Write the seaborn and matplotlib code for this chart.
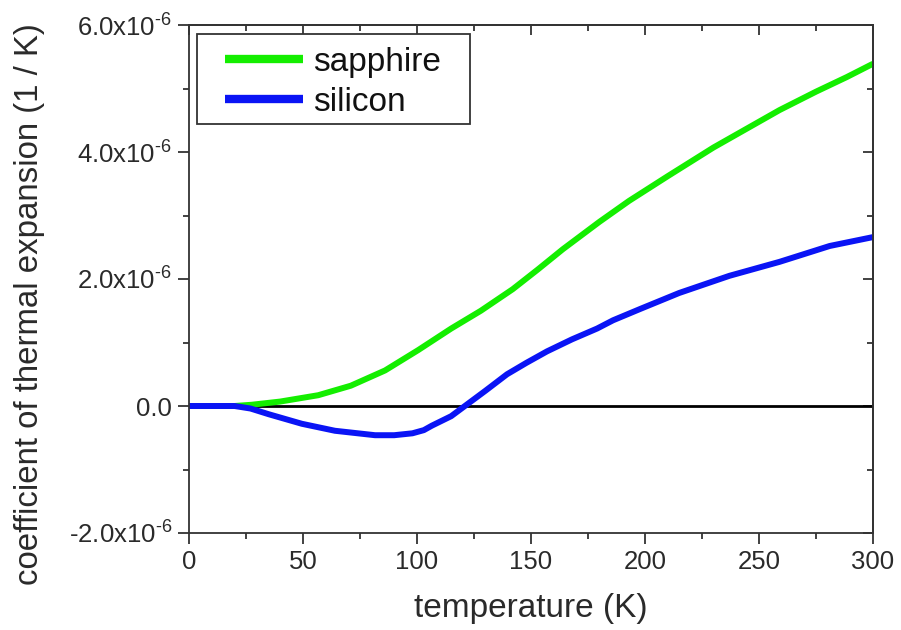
import numpy as np
import pandas as pd
import seaborn as sns
import matplotlib.pyplot as plt
import matplotlib.ticker as mticker
from matplotlib.patches import Rectangle

# values (temperature in K, CTE in units of 1e-6 / K)
SAPPHIRE_T = [0, 10, 20, 27.6, 40, 56.7, 71, 86, 100.5, 115, 128, 142, 153, 164, 180, 193, 210, 230, 259, 275, 288.5, 300]
SAPPHIRE_CTE = [0, 0, 0, 0.02, 0.07, 0.17, 0.32, 0.56, 0.88, 1.22, 1.50, 1.84, 2.15, 2.47, 2.90, 3.23, 3.62, 4.07, 4.66, 4.95, 5.18, 5.39]
SILICON_T = [0, 10, 20, 27, 35, 49.5, 64, 81.6, 90, 98, 103, 106.5, 115, 121, 130, 139.5, 148, 157, 168, 179, 186, 198, 215, 237, 259, 281, 300]
SILICON_CTE = [0, 0, 0, -0.04, -0.13, -0.28, -0.39, -0.46, -0.46, -0.43, -0.38, -0.31, -0.16, 0.0, 0.24, 0.50, 0.68, 0.86, 1.05, 1.22, 1.35, 1.53, 1.78, 2.05, 2.27, 2.52, 2.66]
SERIES = ["sapphire", "silicon"]
COLORS = {"sapphire": "#14ee00", "silicon": "#0a14f5"}
X_TICKS = [0, 50, 100, 150, 200, 250, 300]
Y_TICKS = [-2e-6, 0, 2e-6, 4e-6, 6e-6]


def y_label(v, _):
    if abs(v) < 1e-12:
        return "0.0"
    return f"{v * 1e6:.1f}x10$^{{\\text{{-6}}}}$"


def main():
    df = pd.concat([
        pd.DataFrame({"T": SAPPHIRE_T, "cte": np.array(SAPPHIRE_CTE) * 1e-6, "material": "sapphire"}),
        pd.DataFrame({"T": SILICON_T, "cte": np.array(SILICON_CTE) * 1e-6, "material": "silicon"}),
    ], ignore_index=True)

    sns.set_style("ticks")
    plt.rcParams["font.family"] = ["Liberation Sans", "DejaVu Sans"]
    plt.rcParams["mathtext.fontset"] = "custom"
    plt.rcParams["mathtext.rm"] = "Liberation Sans"
    plt.rcParams["mathtext.it"] = "Liberation Sans"
    plt.rcParams["axes.unicode_minus"] = False

    fig = plt.figure(figsize=(9.01, 6.30), dpi=100)
    ax = fig.add_axes([189 / 901, 1 - 533 / 630, (873 - 189) / 901, (533 - 25) / 630])

    ax.axhline(0, color="black", lw=2, zorder=1)
    sns.lineplot(data=df, x="T", y="cte", hue="material", hue_order=SERIES,
                 palette=COLORS, lw=4.3, ax=ax, zorder=2, estimator=None, sort=True,
                 solid_joinstyle="round", solid_capstyle="butt")

    ax.set_xlim(0, 300)
    ax.set_ylim(-2e-6, 6e-6)
    ax.set_xticks(X_TICKS)
    ax.set_yticks(Y_TICKS)
    ax.xaxis.set_minor_locator(mticker.MultipleLocator(25))
    ax.yaxis.set_minor_locator(mticker.MultipleLocator(1e-6))
    ax.yaxis.set_major_formatter(mticker.FuncFormatter(y_label))

    frame_col = "#333333"
    txt_col = "#2a2a2a"
    for s in ax.spines.values():
        s.set_color(frame_col)
        s.set_linewidth(1.3)
    ax.tick_params(which="major", direction="out", length=8, width=1.3, color=frame_col,
                   labelsize=18.5, labelcolor=txt_col, pad=4)
    ax.tick_params(which="minor", direction="out", length=4.5, width=1.3, color=frame_col)

    top = ax.secondary_xaxis("top")
    top.set_xticks(X_TICKS)
    top.xaxis.set_minor_locator(mticker.MultipleLocator(25))
    top.tick_params(which="major", direction="in", length=7, width=1.3, color=frame_col, labeltop=False)
    top.tick_params(which="minor", direction="in", length=4.5, width=1.3, color=frame_col)
    top.spines["top"].set_color(frame_col)
    top.spines["top"].set_linewidth(1.3)
    right = ax.secondary_yaxis("right")
    right.set_yticks(Y_TICKS)
    right.yaxis.set_minor_locator(mticker.MultipleLocator(1e-6))
    right.tick_params(which="major", direction="in", length=7, width=1.3, color=frame_col, labelright=False)
    right.tick_params(which="minor", direction="in", length=4.5, width=1.3, color=frame_col)
    right.spines["right"].set_color(frame_col)
    right.spines["right"].set_linewidth(1.3)

    ax.set_xlabel("temperature (K)", fontsize=24, color=txt_col, labelpad=14)
    ax.set_ylabel("coefficient of thermal expansion (1 / K)", fontsize=23.8, color=txt_col)
    ax.yaxis.set_label_coords(-0.2105, 0.451)

    # legend box drawn separately so its padding can match the reference
    ax.add_patch(Rectangle((0.0117, 0.8049), 0.399, 0.1771, transform=ax.transAxes,
                           fill=True, facecolor="white", edgecolor=frame_col, lw=1.3, zorder=4))
    leg = ax.legend(loc="upper left", fontsize=24, frameon=False,
                    handlelength=2.35, handletextpad=0.3, borderpad=0, labelspacing=0.26,
                    bbox_to_anchor=(0.0526, 0.9567), borderaxespad=0)
    leg.set_zorder(5)
    for line in leg.get_lines():
        line.set_linewidth(6)
    for t in leg.get_texts():
        t.set_color("#111111")

    fig.savefig("out.png", dpi=100)


if __name__ == "__main__":
    main()
